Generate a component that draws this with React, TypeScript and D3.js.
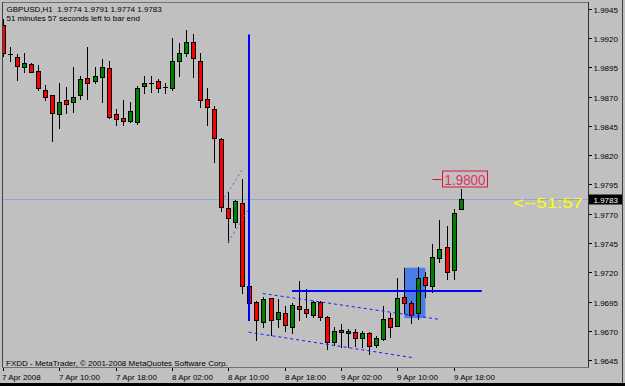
import React from 'react';
import * as d3 from 'd3';

const W = 625;
const H = 386;

const symbol = 'GBPUSD,H1';
const timer = '51 minutes 57 seconds left to bar end';
const countdown = '<--51:57';
const copyright = 'FXDD - MetaTrader, \u00A9 2001-2008 MetaQuotes Software Corp.';

const opens = [1.9931,1.9906,1.9904,1.9895,1.9898,1.9892,1.9876,1.9871,1.9855,1.9867,
1.9865,1.9871,1.9886,1.9883,1.9887,1.9894,1.9855,1.9852,1.9849,1.9848,
1.9879,1.9882,1.9883,1.9878,1.9877,1.9900,1.9907,1.9917,1.9900,1.9868,
1.9859,1.9834,1.9775,1.9763,1.9779,1.9708,1.9695,1.9678,1.9698,1.9680,
1.9685,1.9673,1.9691,1.9689,1.9684,1.9695,1.9682,1.9661,1.9671,1.9668,
1.9669,1.9664,1.9668,1.9658,1.9663,1.9681,1.9674,1.9699,1.9694,1.9685,
1.9716,1.9708,1.9732,1.9742,1.9722,1.9774];
const highs = [1.9936,1.9912,1.9906,1.9907,1.9899,1.9897,1.9880,1.9871,1.9882,1.9878,
1.9895,1.9888,1.9912,1.9895,1.9902,1.9900,1.9859,1.9867,1.9865,1.9879,
1.9888,1.9888,1.9885,1.9882,1.9920,1.9916,1.9927,1.9923,1.9907,1.9877,
1.9862,1.9835,1.9789,1.9782,1.9800,1.9710,1.9696,1.9699,1.9698,1.9697,
1.9691,1.9694,1.9713,1.9706,1.9696,1.9696,1.9683,1.9673,1.9676,1.9672,
1.9672,1.9670,1.9669,1.9666,1.9691,1.9685,1.9715,1.9724,1.9696,1.9725,
1.9720,1.9744,1.9765,1.9760,1.9774,1.9791];
const lows = [1.9905,1.9900,1.9884,1.9891,1.9891,1.9876,1.9867,1.9832,1.9843,1.9856,
1.9857,1.9868,1.9868,1.9882,1.9865,1.9852,1.9846,1.9846,1.9848,1.9847,
1.9873,1.9874,1.9874,1.9873,1.9876,1.9888,1.9905,1.9887,1.9861,1.9846,
1.9814,1.9772,1.9746,1.9759,1.9702,1.9694,1.9662,1.9673,1.9667,1.9673,
1.9670,1.9668,1.9679,1.9682,1.9682,1.9679,1.9655,1.9658,1.9656,1.9656,
1.9657,1.9656,1.9650,1.9656,1.9662,1.9665,1.9674,1.9685,1.9677,1.9680,
1.9699,1.9703,1.9729,1.9714,1.9714,1.9774];
const closes = [1.9907,1.9906,1.9896,1.9899,1.9891,1.9877,1.9870,1.9856,1.9865,1.9864,
1.9870,1.9885,1.9882,1.9888,1.9895,1.9853,1.9851,1.9849,1.9858,1.9877,
1.9882,1.9882,1.9877,1.9878,1.9900,1.9907,1.9917,1.9903,1.9867,1.9861,
1.9835,1.9776,1.9766,1.9781,1.9708,1.9694,1.9679,1.9697,1.9679,1.9686,
1.9675,1.9692,1.9689,1.9685,1.9695,1.9682,1.9661,1.9670,1.9669,1.9670,
1.9664,1.9668,1.9657,1.9664,1.9680,1.9673,1.9698,1.9694,1.9684,1.9715,
1.9709,1.9733,1.9740,1.9720,1.9771,1.9783];

const priceTicks = [1.9945,1.9920,1.9895,1.9870,1.9845,1.9820,1.9795,1.9770,1.9745,1.9720,1.9695,1.9670,1.9645];
const timeTickBars = [0,8,16,24,32,40,48,56,64];
const timeTickLabels = ['7 Apr 2008','7 Apr 10:00','7 Apr 18:00','8 Apr 02:00','8 Apr 10:00','8 Apr 18:00','9 Apr 02:00','9 Apr 10:00','9 Apr 18:00'];

// annotation objects in (bar index, price) space
const channelUpper = [[36.9, 1.9702],[61.9, 1.9680]];
const channelLower = [[34.9, 1.9669],[58.5, 1.9647]];
const smallUpper = [[31.5, 1.9784],[33.9, 1.9807]];
const smallLower = [[32.0, 1.9746],[34.8, 1.9773]];
const vLine = [34.9, 1.9923, 1.96785];
const hLine = [41.05, 68.0, 1.9704];
const boxObj = [57, 60, 1.9724, 1.9681];
const markPrice = 1.98;
const markBar = 61;
const currentPrice = 1.9783;

const FONT = '"Liberation Sans", Arial, sans-serif';

export default function App() {
  const n = opens.length;
  const x = d3.scaleLinear().domain([0, n - 1]).range([3, 460.6]);
  const y = d3.scaleLinear().domain([1.9645, 1.9945]).range([360.3, 8.7]);
  const px = (i: number) => Math.round(x(i)) + 0.5;
  const py = (p: number) => Math.round(y(p)) + 0.5;
  const fmt = d3.format('.4f');
  const line = d3.line<number[]>().x(d => x(d[0])).y(d => y(d[1]));

  const last = n - 1;
  const header = `${symbol}  ${fmt(opens[last])} ${fmt(highs[last])} ${fmt(lows[last])} ${fmt(closes[last])}`;

  const candles = d3.range(n).map(i => {
    const o = opens[i], c = closes[i];
    const cx = px(i);
    const top = Math.round(y(Math.max(o, c)));
    const bot = Math.round(y(Math.min(o, c)));
    const doji = bot - top < 1;
    const fill = c >= o ? '#008000' : '#ff0000';
    return (
      <g key={i}>
        <line x1={cx} x2={cx} y1={Math.round(y(highs[i]))} y2={Math.round(y(lows[i])) + 1} stroke="#000" strokeWidth={1} />
        {doji ? (
          <line x1={cx - 2.5} x2={cx + 2.5} y1={top + 0.5} y2={top + 0.5} stroke="#000" strokeWidth={1} />
        ) : (
          <rect x={cx - 2} y={top + 0.5} width={4} height={bot - top} fill={fill} stroke="#000" strokeWidth={1} />
        )}
      </g>
    );
  });

  const curY = py(currentPrice);

  return (
    <svg width={W} height={H} style={{ position: 'absolute', left: 0, top: 0, display: 'block' }} fontFamily={FONT}>
      <defs>
        <clipPath id="plot"><rect x={3} y={3} width={585} height={364} /></clipPath>
      </defs>
      <rect x={0} y={0} width={W} height={H} fill="#c0c0c0" />
      <g clipPath="url(#plot)">
        {/* rectangle object */}
        <rect x={x(boxObj[0])} y={y(boxObj[2])} width={x(boxObj[1]) - x(boxObj[0])} height={y(boxObj[3]) - y(boxObj[2])} fill="#4a7de6" />
        {/* current price line */}
        <line x1={2} x2={588} y1={curY} y2={curY} stroke="#98a2d2" strokeWidth={1} />
        {candles}
        {/* channels */}
        <path d={line(channelUpper) || ''} stroke="#1a1aff" strokeWidth={1} strokeDasharray="3,3" fill="none" />
        <path d={line(channelLower) || ''} stroke="#1a1aff" strokeWidth={1} strokeDasharray="3,3" fill="none" />
        <path d={line(smallUpper) || ''} stroke="#5a5aee" strokeWidth={1} strokeDasharray="2,3" fill="none" />
        <path d={line(smallLower) || ''} stroke="#5a5aee" strokeWidth={1} strokeDasharray="2,3" fill="none" />
        {/* blue lines */}
        <line x1={Math.round(x(vLine[0]))} x2={Math.round(x(vLine[0]))} y1={y(vLine[1])} y2={y(vLine[2])} stroke="#0000ff" strokeWidth={2} />
        <line x1={x(hLine[0])} x2={x(hLine[1])} y1={Math.round(y(hLine[2]))} y2={Math.round(y(hLine[2]))} stroke="#0000ff" strokeWidth={2} />
        {/* price mark */}
        <line x1={x(markBar)} x2={x(markBar) + 9} y1={py(markPrice)} y2={py(markPrice)} stroke="#dc143c" strokeWidth={1} />
        <rect x={442.5} y={py(markPrice) - 8.5} width={45} height={16} fill="none" stroke="#dc143c" strokeWidth={1} />
        <text x={444.5} y={py(markPrice) + 5.5} fontSize={14} fill="#e0305e" textLength={41} lengthAdjust="spacingAndGlyphs">{fmt(markPrice)}</text>
        {/* countdown */}
        <text x={513} y={208} fontSize={15} fill="#ffff00" textLength={70} lengthAdjust="spacingAndGlyphs">{countdown}</text>
      </g>
      {/* header text */}
      <text x={6.5} y={11.5} fontSize={8} fill="#000" style={{ whiteSpace: 'pre' }}>{header}</text>
      <text x={6.5} y={20.5} fontSize={8} fill="#000">{timer}</text>
      <text x={6} y={365.5} fontSize={8} fill="#000">{copyright}</text>
      {/* frame */}
      <line x1={2} x2={589} y1={2.5} y2={2.5} stroke="#707070" />
      <line x1={2.5} x2={2.5} y1={2} y2={368} stroke="#404040" />
      <line x1={588.5} x2={588.5} y1={2} y2={368} stroke="#303030" />
      <line x1={2} x2={589} y1={367.5} y2={367.5} stroke="#707070" />
      {/* price axis */}
      {priceTicks.map(p => (
        <g key={p}>
          <line x1={589} x2={592} y1={py(p)} y2={py(p)} stroke="#000" />
          <text x={593.5} y={py(p) + 3} fontSize={8} fill="#000">{fmt(p)}</text>
        </g>
      ))}
      <rect x={589} y={curY - 5} width={33} height={10} fill="#000" />
      <text x={593.5} y={curY + 3} fontSize={8} fill="#fff">{fmt(currentPrice)}</text>
      {/* time axis */}
      {timeTickBars.map((b, k) => (
        <g key={b}>
          <line x1={px(b)} x2={px(b)} y1={368} y2={371} stroke="#000" />
          <text x={k === 0 ? 2 : px(b) - 0.5} y={379.5} fontSize={8} fill="#000">{timeTickLabels[k]}</text>
        </g>
      ))}
      {/* window border */}
      <line x1={622.5} x2={622.5} y1={0} y2={H} stroke="#404040" />
      <rect x={0} y={383} width={W} height={3} fill="#000" />
    </svg>
  );
}
